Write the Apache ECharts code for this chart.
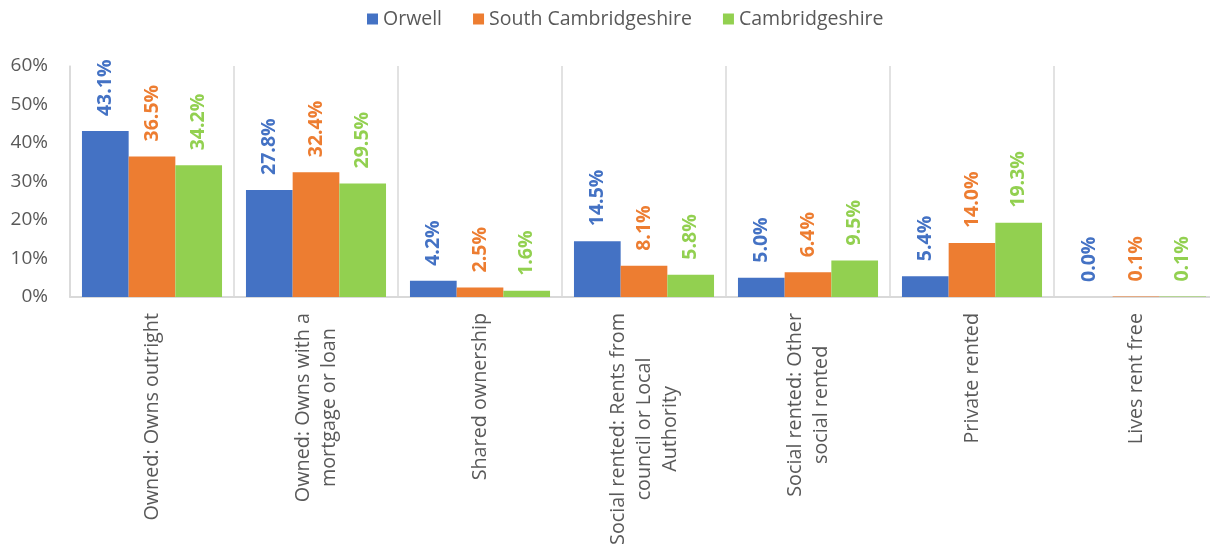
<!DOCTYPE html>
<html>
<head>
<meta charset="utf-8">
<title>Tenure</title>
<script src="https://cdn.jsdelivr.net/npm/echarts@6/dist/echarts.min.js"></script>
<style>
  html, body { margin: 0; padding: 0; background: #ffffff; overflow: hidden; }
  #chart { width: 1210px; height: 546px; }
</style>
</head>
<body>
<div id="chart"></div>
<script>
// Household tenure shares (percent of households)
const categories = [
  'Owned: Owns outright',
  'Owned: Owns with a\nmortgage or loan',
  'Shared ownership',
  'Social rented: Rents from\ncouncil or Local\nAuthority',
  'Social rented: Other\nsocial rented',
  'Private rented',
  'Lives rent free'
];
const seriesNames = ['Orwell', 'South Cambridgeshire', 'Cambridgeshire'];
const orwell = [43.1, 27.8, 4.2, 14.5, 5.0, 5.4, 0.0];
const southCambs = [36.5, 32.4, 2.5, 8.1, 6.4, 14.0, 0.1];
const cambs = [34.2, 29.5, 1.6, 5.8, 9.5, 19.3, 0.1];
const yTicks = { min: 0, max: 60, interval: 10 };

const colors = ['#4472C4', '#ED7D31', '#92D050'];
const FONT = '"Open Sans", "Noto Sans", sans-serif';
const GREY_TEXT = '#595959';
const GREY_LINE = '#d9d9d9';

function barSeries(name, values, color) {
  return {
    name: name,
    type: 'bar',
    data: values,
    barGap: '0%',
    barCategoryGap: '14.6%',
    itemStyle: { color: color },
    label: {
      show: true,
      position: 'top',
      rotate: 90,
      align: 'left',
      verticalAlign: 'middle',
      distance: 15,
      color: color,
      fontFamily: FONT,
      fontWeight: 'bold',
      fontSize: 19.5,
      formatter: p => p.value.toFixed(1) + '%'
    }
  };
}

const chart = echarts.init(document.getElementById('chart'), null, { renderer: 'canvas' });
chart.setOption({
  animation: false,
  backgroundColor: '#ffffff',
  color: colors,
  textStyle: { fontFamily: FONT },
  legend: {
    data: seriesNames,
    left: 362,
    top: 4,
    icon: 'rect',
    itemWidth: 11,
    itemHeight: 11,
    itemGap: 31,
    textStyle: { color: GREY_TEXT, fontSize: 19.5, fontFamily: FONT }
  },
  grid: {
    left: 70,
    top: 66,
    width: 1148,
    height: 231,
    containLabel: false,
    outerBoundsMode: 'none'
  },
  xAxis: {
    type: 'category',
    data: categories,
    axisLine: { show: true, lineStyle: { color: GREY_LINE, width: 2 } },
    axisTick: { show: false },
    splitLine: { show: true, lineStyle: { color: GREY_LINE, width: 1.5 } },
    axisLabel: {
      interval: 0,
      rotate: 90,
      margin: 16,
      color: GREY_TEXT,
      fontSize: 19.75,
      fontFamily: FONT,
      formatter: v => v.split('\n').map(l => '{c|' + l + '}').join('\n'),
      rich: {
        c: { align: 'center', fontSize: 19.75, lineHeight: 26, color: GREY_TEXT, fontFamily: FONT }
      }
    }
  },
  yAxis: {
    type: 'value',
    min: yTicks.min,
    max: yTicks.max,
    interval: yTicks.interval,
    axisLine: { show: true, lineStyle: { color: GREY_LINE, width: 1.5 } },
    axisTick: { show: false },
    splitLine: { show: false },
    axisLabel: {
      formatter: '{value}%',
      color: GREY_TEXT,
      fontSize: 19,
      fontFamily: FONT,
      margin: 22
    }
  },
  series: [
    barSeries(seriesNames[0], orwell, colors[0]),
    barSeries(seriesNames[1], southCambs, colors[1]),
    barSeries(seriesNames[2], cambs, colors[2])
  ]
});
</script>
</body>
</html>
